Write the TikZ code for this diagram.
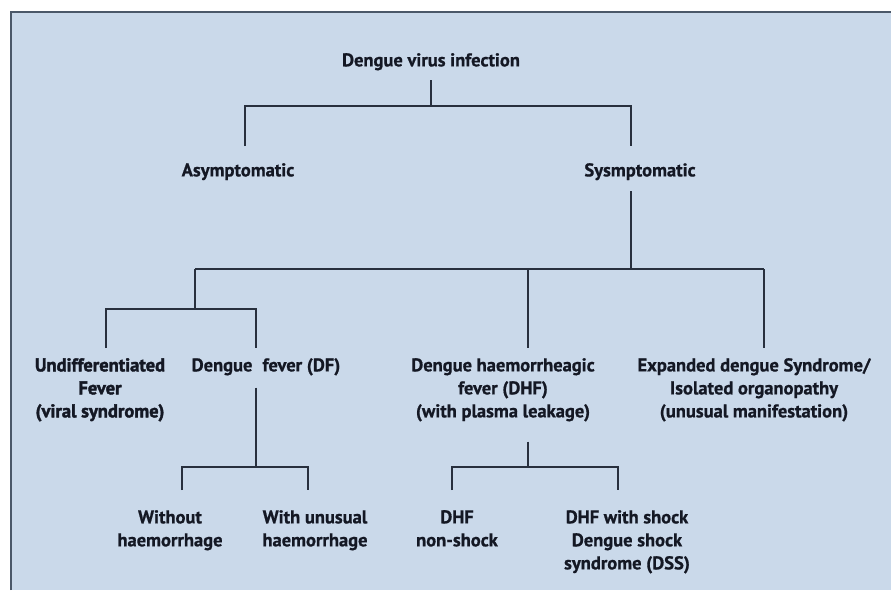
\documentclass[tikz,border=0pt]{standalone}
\usepackage{fontspec}
\setmainfont{PT Sans}[BoldFeatures={FakeBold=0.8}]
\newfontfamily\heavyfont{PT Sans}[BoldFeatures={FakeBold=2}]
\usepackage{tikz}
\definecolor{bgblue}{RGB}{202,217,234}
\definecolor{framegray}{RGB}{75,88,105}
\definecolor{linkgray}{RGB}{40,48,62}
\definecolor{inkblue}{RGB}{20,24,36}

\begin{document}
\begin{tikzpicture}[x=1pt,y=-1pt,
    lbl/.style={anchor=north, inner sep=0pt, align=center, text=inkblue,
                font=\bfseries\fontsize{18.5}{23}\selectfont},
    link/.style={draw=linkgray, line width=1.9pt}]
  \useasboundingbox (0,0) rectangle (891,590);
  % panel
  \fill [bgblue] (11,12) rectangle (891,590);
  \draw [framegray, line width=2pt] (11,590) -- (11,12) -- (891,12);

  % labels
  \node [lbl] (root) at (431,53) {Dengue virus infection};
  \node [lbl] (asym) at (238,163) {Asymptomatic};
  \node [lbl] (sym) at (640,163) {Sysmptomatic};
  \node [lbl, font=\heavyfont\bfseries\fontsize{18.5}{23}\selectfont] (undiff) at (100,358) {Undifferentiated\\Fever\\(viral syndrome)};
  \node [lbl] (df) at (266,358) {Dengue\hspace{0.55em}fever (DF)};
  \node [lbl] (dhf) at (503,358) {Dengue haemorrheagic\\fever (DHF)\\(with plasma leakage)};
  \node [lbl] (eds) at (754,358) {Expanded dengue Syndrome/\\Isolated organopathy\\(unusual manifestation)};
  \node [lbl] (nohaem) at (170,510) {Without\\haemorrhage};
  \node [lbl] (unhaem) at (315,510) {With unusual\\haemorrhage};
  \node [lbl] (noshock) at (457,510) {DHF\\non-shock};
  \node [lbl] (shock) at (627,510) {DHF with shock\\Dengue shock\\syndrome (DSS)};

  % bus points
  \coordinate (r0) at (431,106);
  \coordinate (r1) at (245,106);
  \coordinate (r2) at (631,106);
  \coordinate (s0) at (631,269);
  \coordinate (s1) at (195,269);
  \coordinate (s2) at (528,269);
  \coordinate (s3) at (764,269);
  \coordinate (u0) at (195,309);
  \coordinate (u1) at (106,309);
  \coordinate (u2) at (256,309);
  \coordinate (d0) at (256,467);
  \coordinate (d1) at (182,467);
  \coordinate (d2) at (308,467);
  \coordinate (h0) at (528,467);
  \coordinate (h1) at (452,467);
  \coordinate (h2) at (618,467);

  % connectors
  \draw [link, shorten <=10pt] (root.south) -- (r0);
  \draw [link, shorten <=17pt, shorten >=17pt] (r1 |- asym.north) -- (r1) -- (r2) -- (r2 |- sym.north);
  \draw [link, shorten <=11pt] (sym.south -| s0) -- (s0);
  \draw [link] (s1) -- (s3);
  \draw [link] (s1) -- (u0);
  \draw [link, shorten >=10pt] (s2) -- (s2 |- dhf.north);
  \draw [link, shorten >=10pt] (s3) -- (s3 |- eds.north);
  \draw [link, shorten <=10pt, shorten >=10pt] (u1 |- undiff.north) -- (u1) -- (u2) -- (u2 |- df.north);
  \draw [link, shorten <=12pt] (df.south -| d0) -- (d0);
  \draw [link, shorten <=20pt, shorten >=20pt] (d1 |- nohaem.north) -- (d1) -- (d2) -- (d2 |- unhaem.north);
  \draw [link, shorten <=20pt] (dhf.south -| h0) -- (h0);
  \draw [link, shorten <=20pt, shorten >=20pt] (h1 |- noshock.north) -- (h1) -- (h2) -- (h2 |- shock.north);
\end{tikzpicture}
\end{document}
